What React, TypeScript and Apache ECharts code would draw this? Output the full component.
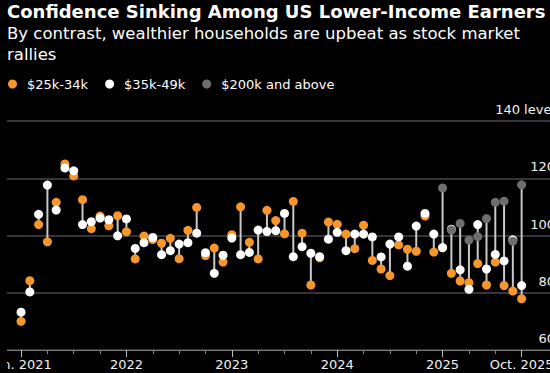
import React, { useEffect, useRef } from "react";
import * as echarts from "echarts";

const months: string[] = [
  "2021-01","2021-02","2021-03","2021-04","2021-05","2021-06","2021-07","2021-08","2021-09","2021-10","2021-11","2021-12",
  "2022-01","2022-02","2022-03","2022-04","2022-05","2022-06","2022-07","2022-08","2022-09","2022-10","2022-11","2022-12",
  "2023-01","2023-02","2023-03","2023-04","2023-05","2023-06","2023-07","2023-08","2023-09","2023-10","2023-11","2023-12",
  "2024-01","2024-02","2024-03","2024-04","2024-05","2024-06","2024-07","2024-08","2024-09","2024-10","2024-11","2024-12",
  "2025-01","2025-02","2025-03","2025-04","2025-05","2025-06","2025-07","2025-08","2025-09","2025-10",
];

const low: (number | null)[] = [
  70.0, 84.2, 103.8, 97.8, 111.6, 125.0, 120.8, 112.5, 102.4, 106.8, 103.4, 106.9,
  101.3, 91.8, 99.8, 98.6, 97.3, 99.0, 91.9, 101.8, 109.8, 93.0, 95.6, 90.7,
  100.3, 110.0, 97.6, 91.8, 108.8, 105.2, 100.6, 111.9, 100.8, 82.7, 92.2, 104.7,
  103.9, 100.5, 95.4, 103.6, 91.3, 88.3, 86.0, 96.7, 95.2, 94.5, 106.8, 94.2,
  95.7, 86.8, 84.1, 83.5, 90.2, 82.7, 90.7, 82.5, 80.6, 77.9,
];

const mid: (number | null)[] = [
  73.2, 80.3, 107.4, 117.6, 108.9, 123.6, 122.6, 103.8, 104.8, 106.1, 105.5, 99.9,
  105.8, 95.5, 97.5, 99.3, 93.3, 94.7, 97.0, 97.5, 100.8, 94.0, 86.8, 93.1,
  99.1, 93.3, 94.1, 101.9, 101.4, 101.7, 107.7, 92.6, 96.1, 93.8, 92.6, 98.7,
  101.1, 94.7, 100.5, 100.5, 99.5, 92.5, 97.0, 99.5, 89.3, 103.3, 107.7, 100.5,
  95.8, 102.2, 88.0, 81.2, 103.8, 88.3, 93.4, 91.1, 98.5, 82.5,
];

const high: (number | null)[] = [
  null, null, null, null, null, null, null, null, null, null, null, null,
  null, null, null, null, null, null, null, null, null, null, null, null,
  null, null, null, null, null, null, null, null, null, null, null, null,
  null, null, null, null, null, null, null, null, null, null, null, null,
  116.6, 101.9, 104.2, 98.4, 99.6, 105.9, 111.6, 112.0, 98.0, 117.7,
];

const seriesNames = ["$25k-34k", "$35k-49k", "$200k and above"];
const seriesColors = ["#f7962b", "#ffffff", "#6e6e6e"];

const minorTickMonths = [0, 3, 6, 9, 12, 15, 18, 21, 24, 27, 30, 33, 36, 39, 42, 45, 48, 51, 54, 57];
const majorTickMonths = [0, 12, 24, 36, 48, 57];
const majorTickLabels = ["Jan. 2021", "2022", "2023", "2024", "2025", "Oct. 2025"];

const FONT = "DejaVu Sans";

export default function App() {
  const ref = useRef<HTMLDivElement>(null);
  useEffect(() => {
    if (!ref.current) return;
    const chart = echarts.init(ref.current, null, { renderer: "svg" });
    const all = [low, mid, high];
    const ranges = months.map((_, i) => {
      const vals = all.map((a) => a[i]).filter((v) => v != null) as number[];
      return [i, Math.min(...vals), Math.max(...vals)];
    });
    const toPts = (arr: (number | null)[]) => arr.map((v, i) => [i, v]);
    const xMin = -1.6;
    const xMax = 60.8;
    chart.setOption({
      animation: false,
      backgroundColor: "#000",
      title: [
        {
          text: "Confidence Sinking Among US Lower-Income Earners",
          left: 0,
          top: 0,
          padding: 0,
          textStyle: { color: "#fff", fontFamily: FONT, fontWeight: "bold", fontSize: 18, lineHeight: 22 },
        },
        {
          text: "By contrast, wealthier households are upbeat as stock market\nrallies",
          left: 0,
          top: 23,
          padding: 0,
          textStyle: { color: "#fff", fontFamily: FONT, fontWeight: "normal", fontSize: 16.5, lineHeight: 21 },
        },
      ],
      legend: {
        data: seriesNames,
        left: 1,
        top: 76,
        padding: 0,
        icon: "circle",
        itemWidth: 9,
        itemHeight: 9,
        itemGap: 17,
        textStyle: { color: "#fff", fontFamily: FONT, fontSize: 13, lineHeight: 16, padding: [0, 0, 0, 5] },
      },
      grid: { left: 0, right: 12, top: 121, bottom: 23, containLabel: false, outerBoundsMode: "none" },
      xAxis: [
        {
          type: "value",
          position: "bottom",
          min: xMin,
          max: xMax,
          axisLine: { show: true, lineStyle: { color: "#7a7a7a", width: 1 } },
          axisTick: { show: true, customValues: minorTickMonths, length: 4, lineStyle: { color: "#8a8a8a" } },
          axisLabel: { show: false },
          splitLine: { show: false },
        },
        {
          type: "value",
          position: "bottom",
          offset: 0,
          min: xMin,
          max: xMax,
          axisLine: { show: false },
          axisTick: { show: true, customValues: majorTickMonths, length: 7, lineStyle: { color: "#bdbdbd" } },
          axisLabel: {
            show: true,
            customValues: majorTickMonths,
            margin: 8,
            color: "#f2f2f2",
            fontFamily: FONT,
            fontSize: 13,
            formatter: (v: number) => {
              const k = majorTickMonths.indexOf(Math.round(v));
              return k >= 0 ? majorTickLabels[k] : "";
            },
          },
          splitLine: { show: false },
        },
      ],
      yAxis: {
        type: "value",
        position: "right",
        min: 60,
        max: 140,
        interval: 20,
        axisLine: { show: false },
        axisTick: { show: false },
        splitLine: { show: true, lineStyle: { color: "#474747", width: 1.5 } },
        axisLabel: {
          inside: true,
          margin: 0,
          align: "right",
          verticalAlign: "bottom",
          showMinLabel: true,
          showMaxLabel: true,
          color: "#f2f2f2",
          fontFamily: FONT,
          fontSize: 13,
          lineHeight: 15,
          padding: [0, 0, 4, 0],
          formatter: (v: number) => (v === 140 ? "140 level" : String(v)),
        },
      },
      series: [
        {
          type: "custom",
          xAxisIndex: 0,
          silent: true,
          data: ranges,
          encode: { x: 0, y: [1, 2] },
          renderItem: (params: any, api: any) => {
            const x = api.value(0);
            const a = api.coord([x, api.value(1)]);
            const b = api.coord([x, api.value(2)]);
            return {
              type: "line",
              shape: { x1: a[0], y1: a[1], x2: b[0], y2: b[1] },
              style: { stroke: "#c8c8c8", lineWidth: 2 },
            };
          },
        },
        ...[low, mid, high].map((arr, k) => ({
          name: seriesNames[k],
          type: "scatter",
          xAxisIndex: 0,
          symbol: "circle",
          symbolSize: 9,
          itemStyle: { color: seriesColors[k], opacity: 1 },
          data: toPts(arr),
        })),
      ],
    });
    return () => chart.dispose();
  }, []);
  return (
    <div style={{ position: "fixed", left: 0, top: 0, width: 550, height: 373, background: "#000", overflow: "hidden" }}>
      <div ref={ref} style={{ position: "absolute", left: 7, top: 0, width: 560, height: 373 }} />
    </div>
  );
}
